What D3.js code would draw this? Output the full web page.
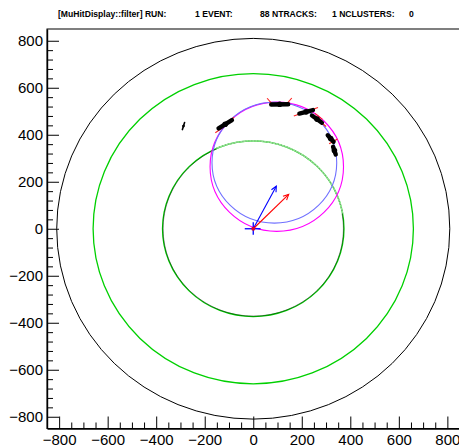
<!DOCTYPE html>
<html><head><meta charset="utf-8">
<script src="https://cdn.jsdelivr.net/npm/d3@7"></script>
<style>body{margin:0;background:#fff}svg{display:block}</style>
</head><body>
<script>
// ---------- data ----------
const titleParts = ["[MuHitDisplay::filter] RUN:", "1 EVENT:", "88 NTRACKS:", "1 NCLUSTERS:", "0"];
const titleOffsets = [0, 137, 202, 274, 351];
const xTicks = [-800, -600, -400, -200, 0, 200, 400, 600, 800];
const yTicks = [-800, -600, -400, -200, 0, 200, 400, 600, 800];
// detector circles (centre 0,0)
const detRadius = [810, 660, 374];
const detColor  = ["#000000", "#00d000", "#00cc00"];
// track helix circles
const trkCx = [97, 87];
const trkCy = [264, 281];
const trkR  = [275, 257];
const trkColor = ["#ff00ff", "#7070ff"];
// hits (black segments): start/end
const hitX1 = [-292, -143, 74, 190, 242, 307, 329];
const hitY1 = [422, 427, 529, 490, 482, 398, 349];
const hitX2 = [-283, -88, 144, 246, 283, 331, 340];
const hitY2 = [452, 462, 530, 505, 451, 370, 316];
// straw directions (red short segments): centre and angle (deg)
const strawX = [-140, -95, 70, 146, 186, 248, 270, 285, 330];
const strawY = [420, 463, 540, 541, 487, 509, 478, 448, 372];
const strawA = [35, 35, -50, 50, 20, 20, -40, -40, 30];
// momentum arrows from origin
const arrX = [95, 146];
const arrY = [181, 146];
const arrColor = ["#0000ff", "#ff0000"];

// ---------- drawing ----------
const W = 459, H = 447;
const svg = d3.select("body").append("svg").attr("width", W).attr("height", H)
  .style("font-family", "'Liberation Sans', Arial, sans-serif");
const x = d3.scaleLinear().domain([-850, 850]).range([47, 459.5]);
const y = d3.scaleLinear().domain([-850, 850]).range([428.5, 29]);
const sx = v => x(v) - x(0), sy = v => y(0) - y(v);

// title
const tg = svg.append("g").attr("transform", "translate(58,16.5)");
titleParts.forEach((t, i) => tg.append("text").attr("x", titleOffsets[i]).attr("y", 0)
  .attr("font-size", 8.6).attr("font-weight", "bold").text(t));

// frame
svg.append("rect").attr("x", x(-850)).attr("y", y(850)).attr("width", x(850) - x(-850))
  .attr("height", y(-850) - y(850)).attr("fill", "none").attr("stroke", "#000").attr("stroke-width", 1);

const plot = svg.append("g");
// detector circles
detRadius.forEach((r, i) => plot.append("ellipse").attr("cx", x(0)).attr("cy", y(0))
  .attr("rx", sx(r)).attr("ry", sy(r)).attr("fill", "none").attr("stroke", detColor[i])
  .attr("stroke-width", i === 0 ? 1 : 1.3));
// dark edge of the inner circle (lower/left part) and light upper arc
const arcPts = (r, a0, a1) => d3.range(a0, a1 + 0.5, 1).map(a => [x(r * Math.cos(a * Math.PI / 180)), y(r * Math.sin(a * Math.PI / 180))]);
plot.append("path").attr("d", d3.line()(arcPts(371.5, 114, 370)))
  .attr("fill", "none").attr("stroke", "#000").attr("stroke-width", 0.6).attr("opacity", 0.75);
plot.append("path").attr("d", d3.line()(arcPts(374, 10, 114)))
  .attr("fill", "none").attr("stroke", "#90e890").attr("stroke-width", 1.6);
plot.append("path").attr("d", d3.line()(arcPts(374, 10, 114)))
  .attr("fill", "none").attr("stroke", "#555").attr("stroke-width", 1.2).attr("stroke-dasharray", "0.6,2.4").attr("opacity", 0.7);

// track circles
trkR.forEach((r, i) => plot.append("ellipse").attr("cx", x(trkCx[i])).attr("cy", y(trkCy[i]))
  .attr("rx", sx(r)).attr("ry", sy(r)).attr("fill", "none").attr("stroke", trkColor[i]).attr("stroke-width", 1.1));

// straws (red)
strawX.forEach((cx, i) => {
  const a = strawA[i] * Math.PI / 180, L = 20;
  plot.append("line").attr("x1", x(cx - L * Math.cos(a))).attr("y1", y(strawY[i] - L * Math.sin(a)))
    .attr("x2", x(cx + L * Math.cos(a))).attr("y2", y(strawY[i] + L * Math.sin(a)))
    .attr("stroke", "#ff2020").attr("stroke-width", 1.1);
});
// hits (black)
hitX1.forEach((x1, i) => {
  plot.append("line").attr("x1", x(x1)).attr("y1", y(hitY1[i])).attr("x2", x(hitX2[i])).attr("y2", y(hitY2[i]))
    .attr("stroke", "#000").attr("stroke-width", i === 0 ? 1.6 : 4.4).attr("stroke-linecap", "round");
  plot.append("circle").attr("cx", x((x1 + hitX2[i]) / 2)).attr("cy", y((hitY1[i] + hitY2[i]) / 2))
    .attr("r", i === 0 ? 1.4 : 2.8).attr("fill", "#000");
});

// arrows
arrX.forEach((ax, i) => {
  const x0 = x(0), y0 = y(0), x1 = x(ax), y1 = y(arrY[i]);
  const ang = Math.atan2(y1 - y0, x1 - x0), h = 6, s = 0.45;
  plot.append("line").attr("x1", x0).attr("y1", y0).attr("x2", x1).attr("y2", y1)
    .attr("stroke", arrColor[i]).attr("stroke-width", 1.1);
  plot.append("path").attr("d", `M${x1 - h * Math.cos(ang - s)},${y1 - h * Math.sin(ang - s)}L${x1},${y1}L${x1 - h * Math.cos(ang + s)},${y1 - h * Math.sin(ang + s)}`)
    .attr("fill", "none").attr("stroke", arrColor[i]).attr("stroke-width", 1.1);
});
// origin marker
plot.append("line").attr("x1", x(-35)).attr("x2", x(30)).attr("y1", y(0)).attr("y2", y(0)).attr("stroke", "#0000ff").attr("stroke-width", 1.3);
plot.append("line").attr("x1", x(0)).attr("x2", x(0)).attr("y1", y(28)).attr("y2", y(-25)).attr("stroke", "#0000ff").attr("stroke-width", 1.3);
plot.append("circle").attr("cx", x(0)).attr("cy", y(0)).attr("r", 2).attr("fill", "#e00030");

// axes
const xMinor = d3.range(-800, 801, 50).filter(v => v % 200 !== 0);
const yMinor = d3.range(-800, 801, 40).filter(v => v % 200 !== 0);
svg.append("g").attr("transform", `translate(0,${y(-850)})`)
  .call(d3.axisBottom(x).tickValues(xMinor).tickSize(-6).tickFormat(""))
  .call(g => g.select(".domain").remove());
svg.append("g").attr("transform", `translate(${x(-850)},0)`)
  .call(d3.axisLeft(y).tickValues(yMinor).tickSize(-6).tickFormat(""))
  .call(g => g.select(".domain").remove());
const xa = svg.append("g").attr("transform", `translate(0,${y(-850)})`)
  .call(d3.axisBottom(x).tickValues(xTicks).tickSize(-12).tickPadding(6).tickSizeOuter(0));
const ya = svg.append("g").attr("transform", `translate(${x(-850)},0)`)
  .call(d3.axisLeft(y).tickValues(yTicks).tickSize(-12).tickPadding(4).tickSizeOuter(0));
[xa, ya].forEach(a => {
  a.selectAll("text").attr("font-size", 15).attr("fill", "#000").style("font-family", "'Liberation Sans', Arial, sans-serif");
  a.select(".domain").attr("stroke-width", 1.4);
});
svg.selectAll(".tick line").attr("stroke", "#000");
</script>
</body></html>
